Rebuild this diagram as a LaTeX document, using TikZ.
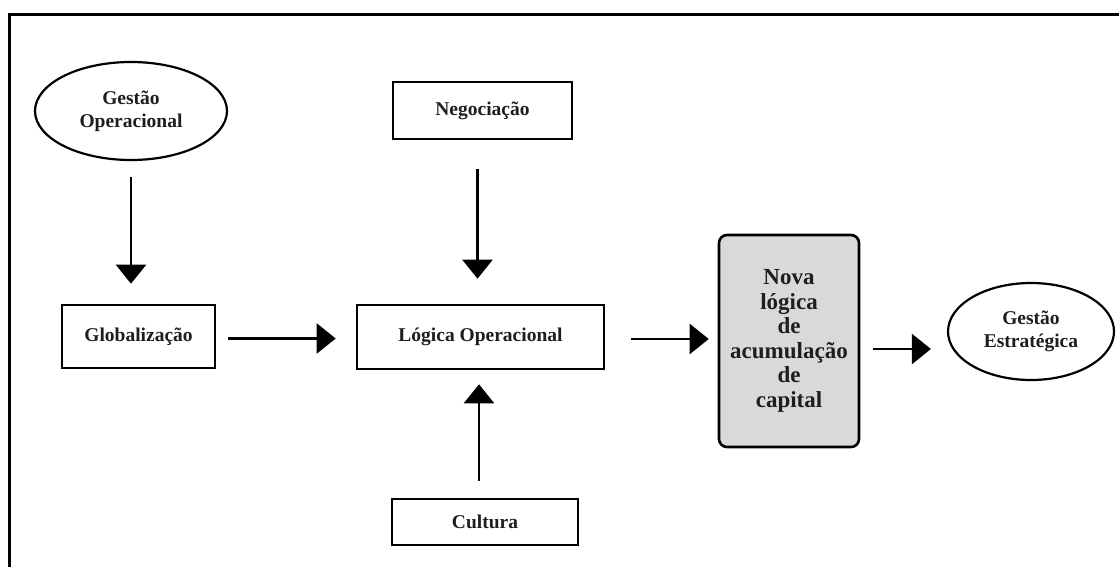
\documentclass[tikz,border=0pt]{standalone}
\usepackage{fontspec}
\setmainfont{Liberation Serif}
\usetikzlibrary{arrows.meta,shapes.geometric}
\definecolor{inkc}{HTML}{1E1E1E}
\definecolor{boxfill}{HTML}{D9D9D9}
\begin{document}
\begin{tikzpicture}[x=1pt,y=-1pt,
  lbl/.style={font=\fontsize{19.5}{23}\selectfont\bfseries, text=inkc, align=center, inner sep=0pt},
  rectbox/.style={lbl, draw=black, line width=2.6pt},
  ovalbox/.style={lbl, ellipse, draw=black, line width=2.2pt},
  flow/.style={line width=2.4pt, -{Triangle[length=19pt,width=30pt]}}
]
\useasboundingbox (0,0) rectangle (1119,567);
% outer frame, open at right and bottom
\draw[line width=3pt] (9,567) -- (9,15) -- (1119,15);

% nodes
\node[ovalbox, minimum width=192pt, minimum height=98pt] (go) at (131,111) {Gestão\\Operacional};
\node[rectbox, minimum width=153pt, minimum height=63pt] (glob) at (138.5,336.5) {Globalização};
\node[rectbox, minimum width=179pt, minimum height=57pt] (neg) at (482.5,110.5) {Negociação};
\node[rectbox, minimum width=247pt, minimum height=64pt] (logica) at (480.5,337) {Lógica Operacional};
\node[rectbox, minimum width=186pt, minimum height=46pt] (cult) at (485,522) {Cultura};
\node[rectbox, fill=boxfill, rounded corners=8pt, minimum width=140pt, minimum height=212pt,
      font=\fontsize{23}{24.6}\selectfont\bfseries] (nova) at (789,341)
      {Nova\\lógica\\de\\acumulação\\de\\capital};
\node[ovalbox, minimum width=166pt, minimum height=97pt] (ge) at (1031,331.5) {Gestão\\Estratégica};

% connectors
\draw[flow, shorten <=16pt, shorten >=20pt] (go.south) -- (go.south |- glob.north);
\draw[flow, shorten <=12pt, shorten >=20pt] ([yshift=-2pt]glob.east) -- ([yshift=-2pt]glob.east -| logica.west);
\draw[flow, shorten <=29pt, shorten >=25pt] ([xshift=-5pt]neg.south) -- ([xshift=-5pt]neg.south |- logica.north);
\draw[flow, shorten <=17pt, shorten >=14pt] ([xshift=-6pt]cult.north) -- ([xshift=-6pt]cult.north |- logica.south);
\draw[flow, shorten <=26pt, shorten >=9pt] ([yshift=-2pt]logica.east) -- ([yshift=-2pt]logica.east -| nova.west);
\draw[flow, shorten <=13pt, shorten >=16pt] ([yshift=-8pt]nova.east) -- ([yshift=-8pt]nova.east -| ge.west);
\end{tikzpicture}
\end{document}
